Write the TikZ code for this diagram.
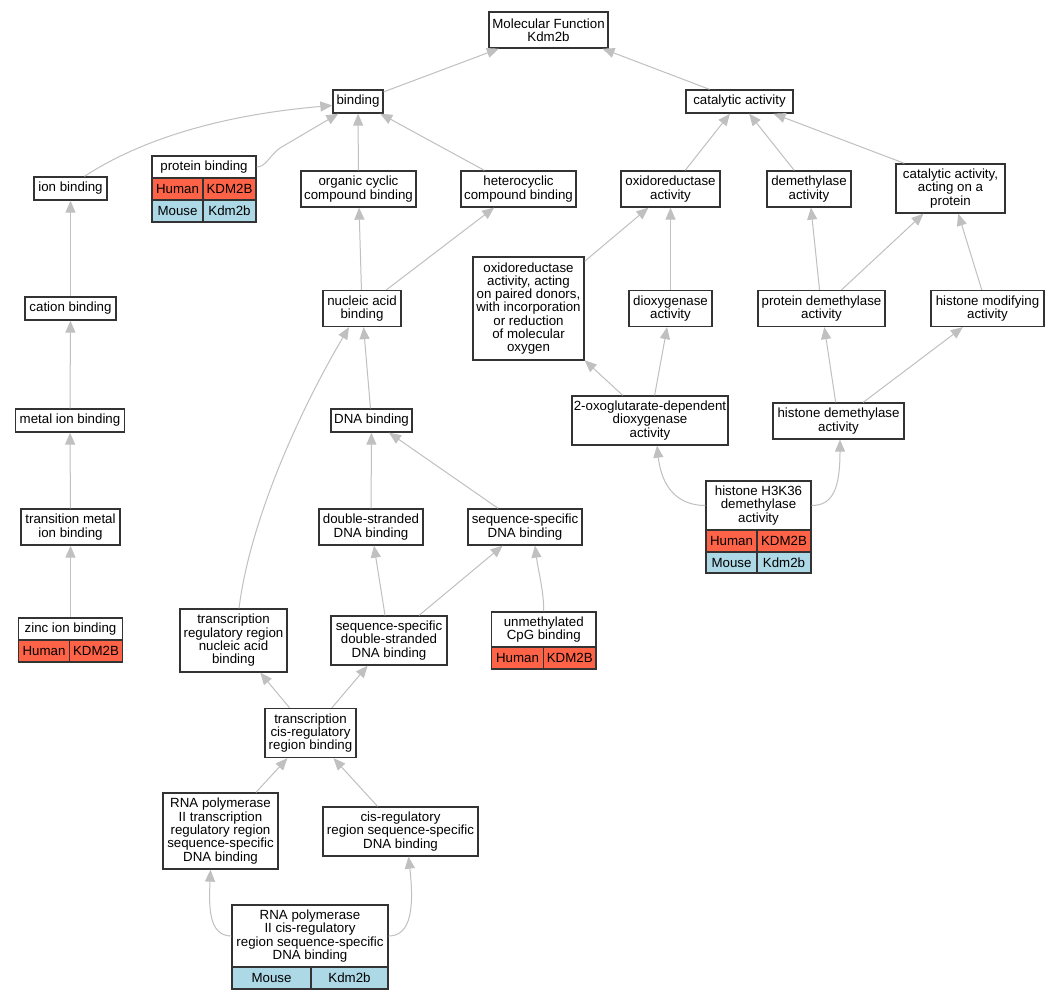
\documentclass[tikz,border=0pt]{standalone}
\usepackage{fontspec}
\setmainfont{Liberation Sans}
\usetikzlibrary{arrows.meta,calc}
\definecolor{edgegray}{HTML}{C0C0C0}
\definecolor{humanred}{HTML}{FF6347}
\definecolor{mouseblue}{HTML}{ADD8E6}
\definecolor{boxborder}{HTML}{333333}
\begin{document}
\begin{tikzpicture}[x=1pt,y=-1pt,
  box/.style={draw=boxborder, line width=1.3pt, fill=white, inner sep=0pt, align=center,
    font={\fontsize{13.3}{13.3}\selectfont}},
  human/.style={box, fill=humanred},
  mouse/.style={box, fill=mouseblue},
  edge/.style={draw=edgegray, line width=1pt, -{Triangle[length=12pt,width=10pt]}}
]
\useasboundingbox (0,0) rectangle (1059,1000);
\fill[white] (0,0) rectangle (1059,1000);

% nodes
\node[box, minimum width=119, minimum height=36] (mf) at (548.5,30) {Molecular Function\\Kdm2b};
\node[box, minimum width=50, minimum height=23] (bind) at (358,101.5) {binding};
\node[box, minimum width=107, minimum height=23] (cat) at (739.5,101.5) {catalytic activity};
\node[box, minimum width=73, minimum height=23] (ion) at (70.5,188.5) {ion binding};
\node[box, minimum width=104, minimum height=22] (pbh) at (204,167) {protein binding};
\node[human, minimum width=51, minimum height=22] (pba) at (177.5,189) {Human};
\node[human, minimum width=53, minimum height=22] (pbb) at (229.5,189) {KDM2B};
\node[mouse, minimum width=51, minimum height=22] (pbc) at (177.5,211) {Mouse};
\node[mouse, minimum width=53, minimum height=22] (pbd) at (229.5,211) {Kdm2b};
\node[box, minimum width=115, minimum height=36] (ocb) at (358.5,189) {organic cyclic\\compound binding};
\node[box, minimum width=115, minimum height=36] (hcb) at (518.5,189) {heterocyclic\\compound binding};
\node[box, minimum width=99, minimum height=36] (oxr) at (670.5,189) {oxidoreductase\\activity};
\node[box, minimum width=84, minimum height=36] (dem) at (809,189) {demethylase\\activity};
\node[box, minimum width=109, minimum height=49] (cap) at (950.5,188.5) {catalytic activity,\\acting on a\\protein};
\node[box, minimum width=91, minimum height=23] (cation) at (70.5,308.5) {cation binding};
\node[box, minimum width=78, minimum height=36] (nab) at (362,308.5) {nucleic acid\\binding};
\node[box, minimum width=111, minimum height=103] (opd) at (528.5,308.5) {oxidoreductase\\activity, acting\\on paired donors,\\with incorporation\\or reduction\\of molecular\\oxygen};
\node[box, minimum width=83, minimum height=36] (diox) at (670.5,308.5) {dioxygenase\\activity};
\node[box, minimum width=127, minimum height=36] (pdem) at (821.5,308.5) {protein demethylase\\activity};
\node[box, minimum width=113, minimum height=36] (hmod) at (987.5,308.5) {histone modifying\\activity};
\node[box, minimum width=109, minimum height=23] (metal) at (70,420.5) {metal ion binding};
\node[box, minimum width=81, minimum height=23] (dnab) at (371.5,420.5) {DNA binding};
\node[box, minimum width=156, minimum height=49] (oxo) at (650,420.5) {2-oxoglutarate-dependent\\dioxygenase\\activity};
\node[box, minimum width=131, minimum height=36] (hdem) at (838.5,421) {histone demethylase\\activity};
\node[box, minimum width=99, minimum height=36] (trans) at (70.5,527) {transition metal\\ion binding};
\node[box, minimum width=104, minimum height=36] (ds) at (371,527) {double-stranded\\DNA binding};
\node[box, minimum width=114, minimum height=36] (ssd) at (525,527) {sequence-specific\\DNA binding};
\node[box, minimum width=105, minimum height=49] (h3h) at (758.5,505.5) {histone H3K36\\demethylase\\activity};
\node[human, minimum width=51, minimum height=22] (h3a) at (731.5,541) {Human};
\node[human, minimum width=54, minimum height=22] (h3b) at (784,541) {KDM2B};
\node[mouse, minimum width=51, minimum height=21] (h3c) at (731.5,562.5) {Mouse};
\node[mouse, minimum width=54, minimum height=21] (h3d) at (784,562.5) {Kdm2b};
\node[box, minimum width=104, minimum height=22] (zinch) at (70.5,629) {zinc ion binding};
\node[human, minimum width=51, minimum height=22] (zinca) at (44,651) {Human};
\node[human, minimum width=53, minimum height=22] (zincb) at (96,651) {KDM2B};
\node[box, minimum width=107, minimum height=63] (trr) at (233.5,640.5) {transcription\\regulatory region\\nucleic acid\\binding};
\node[box, minimum width=116, minimum height=49] (ssds) at (389,640.5) {sequence-specific\\double-stranded\\DNA binding};
\node[box, minimum width=104.5, minimum height=35] (cpgh) at (543.75,629.5) {unmethylated\\CpG binding};
\node[human, minimum width=52, minimum height=22] (cpga) at (517.5,658) {Human};
\node[human, minimum width=52.5, minimum height=22] (cpgb) at (569.75,658) {KDM2B};
\node[box, minimum width=91, minimum height=49] (tcis) at (310.5,733) {transcription\\cis-regulatory\\region binding};
\node[box, minimum width=115, minimum height=76] (rp2t) at (220.5,831) {RNA polymerase\\II transcription\\regulatory region\\sequence-specific\\DNA binding};
\node[box, minimum width=155, minimum height=49] (cisr) at (400.5,831.5) {cis-regulatory\\region sequence-specific\\DNA binding};
\node[box, minimum width=156, minimum height=62] (rp2ch) at (310,936) {RNA polymerase\\II cis-regulatory\\region sequence-specific\\DNA binding};
\node[mouse, minimum width=79, minimum height=22] (rp2ca) at (271.5,978) {Mouse};
\node[mouse, minimum width=77, minimum height=22] (rp2cb) at (349.5,978) {Kdm2b};

% edges
\draw[edge] (bind) -- (mf);
\draw[edge] ($(cat.north)+(-30,0)$) -- ($(mf.south)+(54,0)$);
\draw[edge] ($(ion.north)+(14,0)$) .. controls (140,140) and (220,115) .. ($(bind.west)+(0,4)$);
\draw[edge] (pbh.east) .. controls (266,167) and (270,155) .. (280,148) -- ($(bind.south west)+(6,0)$);
\draw[edge] (ocb) -- (bind);
\draw[edge] (hcb) -- (bind);
\draw[edge] (oxr) -- (cat);
\draw[edge] (dem) -- (cat);
\draw[edge] ($(cap.north west)+(9,0)$) -- ($(cat.south)+(34,0)$);
\draw[edge] (cation) -- (ion);
\draw[edge] (nab) -- (ocb);
\draw[edge] (nab) -- (hcb);
\draw[edge] (opd) -- (oxr);
\draw[edge] (diox) -- (oxr);
\draw[edge] (pdem) -- (dem);
\draw[edge] (pdem) -- (cap);
\draw[edge] (hmod) -- (cap);
\draw[edge] (metal) -- (cation);
\draw[edge] (dnab) -- (nab);
\draw[edge] ($(trr.north)+(5.5,0)$) .. controls (250,520) and (300,410) .. ($(nab.south)+(-13,0)$);
\draw[edge] (oxo) -- (opd);
\draw[edge] (oxo) -- (diox);
\draw[edge] (hdem) -- (pdem);
\draw[edge] (hdem) -- (hmod);
\draw[edge] (trans) -- (metal);
\draw[edge] (ds) -- (dnab);
\draw[edge] (ssd) -- (dnab);
\draw[edge] (h3h.west) .. controls (680,505.5) and (662,490) .. ($(oxo.south)+(7,0)$);
\draw[edge] (h3h.east) .. controls (832,505.5) and (840,490) .. ($(hdem.south)+(1.5,0)$);
\draw[edge] (zinch) -- (trans);
\draw[edge] (ssds) -- (ds);
\draw[edge] (ssds) -- (ssd);
\draw[edge] (cpgh.north) .. controls (543.75,590) and (538,570) .. ($(ssd.south)+(10,0)$);
\draw[edge] (tcis) -- (trr);
\draw[edge] (tcis) -- (ssds);
\draw[edge] (rp2t) -- (tcis);
\draw[edge] (cisr) -- (tcis);
\draw[edge] (rp2ch.west) .. controls (208,936) and (209,905) .. ($(rp2t.south)+(-10,0)$);
\draw[edge] (rp2ch.east) .. controls (412,936) and (414,905) .. ($(cisr.south)+(8,0)$);
\end{tikzpicture}
\end{document}
